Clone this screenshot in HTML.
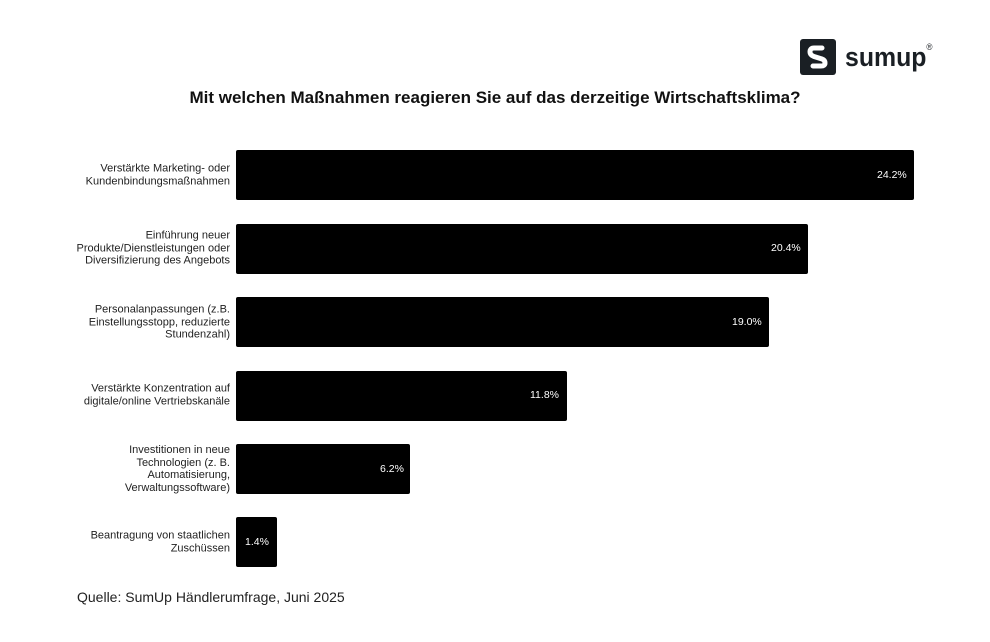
<!DOCTYPE html><html><head><style>
body{margin:0;width:990px;height:642px;background:#fff;font-family:"Liberation Sans",sans-serif;position:relative;overflow:hidden}
.t{position:absolute;left:0;width:990px;top:88px;text-align:center;font-weight:bold;font-size:17px;color:#111}
.l{position:absolute;right:760px;width:200px;text-align:right;font-size:11px;line-height:12.5px;color:#222;transform:translateY(-50%)}
.b{position:absolute;left:236px;height:50px;background:#000;border-radius:2px}
.v{position:absolute;color:#fff;font-size:10.5px;transform:translateY(-50%)}
</style></head><body>
<div style="position:absolute;left:800px;top:39px;width:36px;height:36px;background:#1a1f24;border-radius:3px"></div>
<svg style="position:absolute;left:800px;top:39px" width="36" height="36"><path d="M22 9 L14 9 Q10 9 10 13 Q10 16 14 17.5 L22 20 Q25 21 25 24 Q25 27 21 27 L13 27" stroke="#fff" stroke-width="5" fill="none" stroke-linecap="round"/></svg>
<div style="position:absolute;left:845px;top:42px;font-size:27px;color:#1a1f24;letter-spacing:0px;font-weight:bold;transform:scaleX(0.92);transform-origin:left">sumup<span style="font-size:9px;vertical-align:top;font-weight:normal">®</span></div>
<div class="t">Mit welchen Maßnahmen reagieren Sie auf das derzeitige Wirtschaftsklima?</div>
<div class="l" style="top:175px">Verstärkte Marketing- oder<br>Kundenbindungsmaßnahmen</div>
<div class="b" style="top:150px;width:678px"></div><div class="v" style="top:175px;left:877px">24.2%</div>
<div class="l" style="top:248px">Einführung neuer<br>Produkte/Dienstleistungen oder<br>Diversifizierung des Angebots</div>
<div class="b" style="top:224px;width:572px"></div><div class="v" style="top:248px;left:771px">20.4%</div>
<div class="l" style="top:322px">Personalanpassungen (z.B.<br>Einstellungsstopp, reduzierte<br>Stundenzahl)</div>
<div class="b" style="top:297px;width:533px"></div><div class="v" style="top:322px;left:732px">19.0%</div>
<div class="l" style="top:395px">Verstärkte Konzentration auf<br>digitale/online Vertriebskanäle</div>
<div class="b" style="top:371px;width:331px"></div><div class="v" style="top:395px;left:530px">11.8%</div>
<div class="l" style="top:469px">Investitionen in neue<br>Technologien (z. B.<br>Automatisierung,<br>Verwaltungssoftware)</div>
<div class="b" style="top:444px;width:174px"></div><div class="v" style="top:469px;left:380px">6.2%</div>
<div class="l" style="top:542px">Beantragung von staatlichen<br>Zuschüssen</div>
<div class="b" style="top:517px;width:41px"></div><div class="v" style="top:542px;left:245px">1.4%</div>
<div style="position:absolute;left:77px;top:589px;font-size:14px;color:#222">Quelle: SumUp Händlerumfrage, Juni 2025</div>
</body></html>
